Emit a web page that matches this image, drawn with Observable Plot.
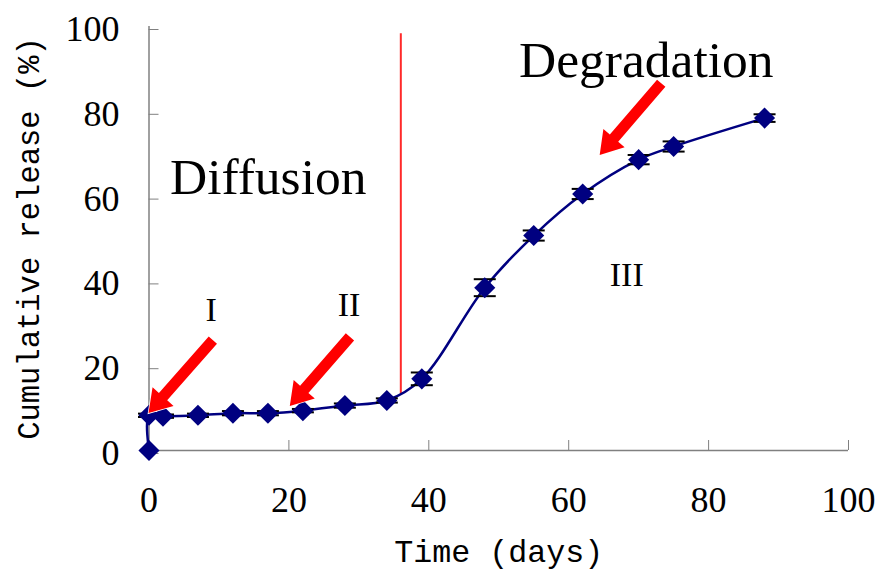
<!DOCTYPE html>
<html>
<head>
<meta charset="utf-8">
<script src="https://cdn.jsdelivr.net/npm/d3@7"></script>
<script src="https://cdn.jsdelivr.net/npm/@observablehq/plot@0.6"></script>
<style>
  body { margin: 0; background: #fff; }
  svg { display: block; }
</style>
</head>
<body>
<div id="chart"></div>
<script>
// Cumulative drug release over time (mean ± SD)
const days    = [0, 0, 2, 7, 12, 17, 22, 28, 34, 39, 48, 55, 62, 70, 75, 88];
const release = [0, 8.3, 8.1, 8.3, 8.8, 8.8, 9.4, 10.6, 11.8, 16.9, 38.4, 50.7, 60.5, 68.6, 71.7, 78.4];
const sd      = [0, 0.4, 0.4, 0.4, 0.5, 0.5, 0.4, 0.5, 0.5, 1.5, 2.0, 1.2, 1.2, 1.1, 1.2, 0.9];

const xTicks = [0, 20, 40, 60, 80, 100];
const yTicks = [0, 20, 40, 60, 80, 100];

// Boundary between the diffusion and degradation phases
const boundaryDay = 36;
const boundaryLow = 13.4;
const boundaryHigh = 98.3;

// Phase annotations
const bigLabels  = ["Diffusion", "Degradation"];
const bigLabelX  = [3.0, 52.9];
const bigLabelY  = [60.6, 88.0];
const stageLabels = ["I", "II", "III"];
const stageLabelX = [8.9, 28.6, 68.3];
const stageLabelY = [30.5, 31.8, 38.9];

// Arrows: tail and tip (days, %)
const arrowTailX = [9.2, 28.8, 73.3];
const arrowTailY = [25.9, 26.7, 86.5];
const arrowTipX  = [0.0, 20.2, 64.5];
const arrowTipY  = [8.7, 10.4, 69.6];

const rows = days.map((d, i) => ({day: d, r: release[i], e: sd[i]}));
const bars = rows.filter(d => d.e > 0);
const bigText = bigLabels.map((t, i) => ({t, x: bigLabelX[i], y: bigLabelY[i]}));
const stageText = stageLabels.map((t, i) => ({t, x: stageLabelX[i], y: stageLabelY[i]}));

// Horizontal cap for the error bars
const capSymbol = {
  draw(context, size) {
    const w = Math.sqrt(size / Math.PI);
    context.moveTo(-w, 0);
    context.lineTo(w, 0);
  }
};

// Block arrows drawn in pixel space from data endpoints
function blockArrows(index, scales) {
  const g = d3.create("svg:g");
  const shaft = 5.5, head = 14, headLen = 22;
  for (let i = 0; i < arrowTailX.length; i++) {
    const sx = scales.x(arrowTailX[i]), sy = scales.y(arrowTailY[i]);
    const tx = scales.x(arrowTipX[i]),  ty = scales.y(arrowTipY[i]);
    const L = Math.hypot(tx - sx, ty - sy);
    const ux = (tx - sx) / L, uy = (ty - sy) / L;
    const nx = -uy, ny = ux;
    const bx = tx - ux * headLen, by = ty - uy * headLen;
    const pts = [
      [sx + nx * shaft, sy + ny * shaft],
      [bx + nx * shaft, by + ny * shaft],
      [bx + nx * head,  by + ny * head],
      [tx, ty],
      [bx - nx * head,  by - ny * head],
      [bx - nx * shaft, by - ny * shaft],
      [sx - nx * shaft, sy - ny * shaft]
    ];
    g.append("path")
      .attr("d", "M" + pts.map(p => p.join(",")).join("L") + "Z")
      .attr("fill", "#ff0000")
      .attr("stroke", "#ffffff")
      .attr("stroke-width", 1.5)
      .attr("paint-order", "stroke");
  }
  return g.node();
}

const chart = Plot.plot({
  width: 878,
  height: 572,
  marginLeft: 148.5,
  marginRight: 30,
  marginTop: 26,
  marginBottom: 122,
  style: {background: "#fff", overflow: "visible"},
  x: {domain: [0, 100]},
  y: {domain: [0, 100]},
  marks: [
    Plot.axisX(xTicks, {
      tickSize: -10, tickPadding: 46, stroke: "#808080",
      fontFamily: "Liberation Serif", fontSize: 36, fill: "#000", label: null
    }),
    Plot.axisY(yTicks, {
      tickSize: -10, tickPadding: 39.5, dy: 3, stroke: "#808080",
      fontFamily: "Liberation Serif", fontSize: 36, fill: "#000", label: null
    }),
    Plot.ruleY([0], {stroke: "#808080", strokeWidth: 1.5}),
    Plot.ruleX([0], {stroke: "#808080", strokeWidth: 1.5}),
    Plot.text(["Cumulative release (%)"], {
      ariaLabel: "y title",
      frameAnchor: "left", dx: -120, rotate: -90, textAnchor: "middle", lineAnchor: "middle",
      fontFamily: "Liberation Mono", fontSize: 30.5, fill: "#000"
    }),
    Plot.text(["Time (days)"], {
      ariaLabel: "x title",
      frameAnchor: "bottom", dy: 101, textAnchor: "middle", lineAnchor: "middle",
      fontFamily: "Liberation Mono", fontSize: 31.7, fill: "#000"
    }),
    Plot.ruleX([boundaryDay], {y1: boundaryLow, y2: boundaryHigh, stroke: "#ff2a2a", strokeWidth: 2}),
    Plot.line(rows, {x: "day", y: "r", curve: "catmull-rom", stroke: "#000080", strokeWidth: 2.5}),
    Plot.ruleX(bars, {x: "day", y1: d => d.r - d.e, y2: d => d.r + d.e, stroke: "#000", strokeWidth: 1.5}),
    Plot.dot(bars, {x: "day", y: d => d.r + d.e, symbol: capSymbol, r: 11, stroke: "#000", strokeWidth: 2, fill: "none"}),
    Plot.dot(bars, {x: "day", y: d => d.r - d.e, symbol: capSymbol, r: 11, stroke: "#000", strokeWidth: 2, fill: "none"}),
    Plot.dot(rows, {x: "day", y: "r", symbol: "diamond2", r: 9.5, fill: "#000080", stroke: "none"}),
    blockArrows,
    Plot.text(bigText, {
      x: "x", y: "y", text: "t", textAnchor: "start", lineAnchor: "bottom",
      fontFamily: "Liberation Serif", fontSize: 51.5, fill: "#000"
    }),
    Plot.text(stageText, {
      x: "x", y: "y", text: "t", textAnchor: "middle", lineAnchor: "bottom",
      fontFamily: "Liberation Serif", fontSize: 34, fill: "#000"
    })
  ]
});

// The axis titles use a tall monospaced face: stretch the glyphs vertically
function stretchTitle(label, k) {
  chart.querySelectorAll(`g[aria-label="${label}"] text`).forEach(t => {
    const tr = t.getAttribute("transform") || "";
    t.setAttribute("transform", `${tr} scale(1,${k})`);
  });
}
stretchTitle("y title", 1.35);
stretchTitle("x title", 1.2);

document.getElementById("chart").appendChild(chart);
</script>
</body>
</html>
